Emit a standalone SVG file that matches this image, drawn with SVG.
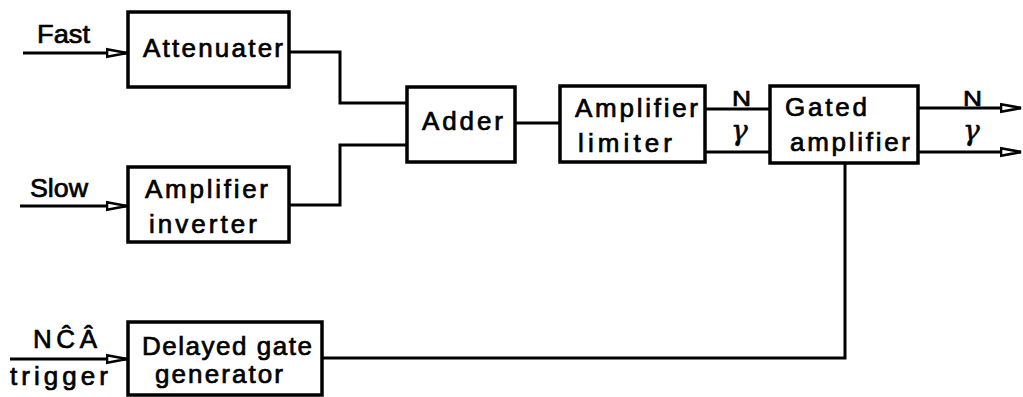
<svg xmlns="http://www.w3.org/2000/svg" width="1023" height="397" viewBox="0 0 1023 397">
<style>
.box{fill:#fff;stroke:#000;stroke-width:3.5}
.ln{fill:none;stroke:#000;stroke-width:3}
.t{font-family:"Liberation Sans",Arial,sans-serif;font-size:26px;fill:#000;stroke:#000;stroke-width:0.7}
.s{font-family:"Liberation Sans",Arial,sans-serif;font-size:22px;fill:#000;stroke:#000;stroke-width:0.7}
.g{font-family:"DejaVu Serif","Liberation Serif",serif;font-style:italic;font-size:28px;fill:#000;stroke:#000;stroke-width:0.5}
</style>
<defs>
<marker id="arr" markerUnits="userSpaceOnUse" markerWidth="24" markerHeight="12" refX="21" refY="6" orient="auto">
<path d="M1,2.3 L21,6 L1,9.7 Z" fill="#fff" stroke="#000" stroke-width="2.6"/>
</marker>
</defs>
<g id="connectors">
<path class="ln" d="M23,53 H127" marker-end="url(#arr)"/>
<path class="ln" d="M20,206 H127" marker-end="url(#arr)"/>
<path class="ln" d="M10,359 H127" marker-end="url(#arr)"/>
<path class="ln" d="M289,52 H340 V103 H407"/>
<path class="ln" d="M289,205 H340 V145 H407"/>
<path class="ln" d="M515,123 H560"/>
<path class="ln" d="M705,109 H770"/>
<path class="ln" d="M705,152 H770"/>
<path class="ln" d="M918,108 H1021" marker-end="url(#arr)"/>
<path class="ln" d="M918,152 H1021" marker-end="url(#arr)"/>
<path class="ln" d="M322,358 H845 V163"/>
</g>
<g id="labels">
<text class="t" x="37" y="43" textLength="53" lengthAdjust="spacingAndGlyphs">Fast</text>
<text class="t" x="30" y="197" textLength="58" lengthAdjust="spacingAndGlyphs">Slow</text>
<text class="t" x="33" y="348" textLength="64" lengthAdjust="spacing">NĈÂ</text>
<text class="t" x="10" y="385" textLength="98" lengthAdjust="spacing">trigger</text>
<text class="s" x="732" y="106" textLength="19" lengthAdjust="spacingAndGlyphs">N</text>
<text class="g" x="731" y="140">γ</text>
<text class="s" x="963" y="106" textLength="19" lengthAdjust="spacingAndGlyphs">N</text>
<text class="g" x="963" y="140">γ</text>
</g>
<g id="attenuater">
<rect class="box" x="128" y="12" width="161" height="75"/>
<text class="t" x="143" y="57" textLength="140" lengthAdjust="spacing">Attenuater</text>
</g>
<g id="amplifier-inverter">
<rect class="box" x="128" y="167" width="161" height="75"/>
<text class="t" x="145" y="198" textLength="123" lengthAdjust="spacing">Amplifier</text>
<text class="t" x="149" y="233" textLength="108" lengthAdjust="spacing">inverter</text>
</g>
<g id="delayed-gate-generator">
<rect class="box" x="128" y="322" width="194" height="73"/>
<text class="t" x="142" y="355" textLength="170" lengthAdjust="spacing">Delayed gate</text>
<text class="t" x="155" y="383" textLength="128" lengthAdjust="spacing">generator</text>
</g>
<g id="adder">
<rect class="box" x="407" y="87" width="108" height="75"/>
<text class="t" x="422" y="130" textLength="81" lengthAdjust="spacing">Adder</text>
</g>
<g id="amplifier-limiter">
<rect class="box" x="560" y="86" width="145" height="76"/>
<text class="t" x="575" y="117" textLength="123" lengthAdjust="spacing">Amplifier</text>
<text class="t" x="578" y="152" textLength="94" lengthAdjust="spacing">limiter</text>
</g>
<g id="gated-amplifier">
<rect class="box" x="770" y="86" width="148" height="77"/>
<text class="t" x="785" y="116" textLength="82" lengthAdjust="spacing">Gated</text>
<text class="t" x="790" y="151" textLength="120" lengthAdjust="spacing">amplifier</text>
</g>
</svg>
